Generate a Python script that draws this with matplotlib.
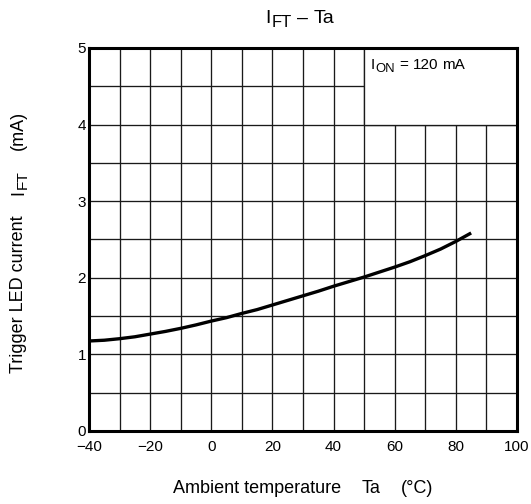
import matplotlib
matplotlib.use("Agg")
import matplotlib.pyplot as plt
from matplotlib.patches import Rectangle
from matplotlib.transforms import IdentityTransform
import numpy as np

plt.rcParams['font.family'] = ['Liberation Sans', 'DejaVu Sans']

# Trigger LED current I_FT (mA) vs ambient temperature Ta (deg C)
temp_c = [-40, -35, -30, -25, -20, -15, -10, -5, 0, 5, 10, 15, 20, 25,
          30, 35, 40, 45, 50, 55, 60, 65, 70, 75, 80, 85]
ift_ma = [1.175, 1.185, 1.205, 1.23, 1.265, 1.30, 1.34, 1.385, 1.435, 1.48,
          1.535, 1.585, 1.645, 1.705, 1.765, 1.825, 1.89, 1.95, 2.01, 2.075,
          2.14, 2.21, 2.29, 2.375, 2.475, 2.585]

x_ticks = [-40, -20, 0, 20, 40, 60, 80, 100]
y_ticks = [0, 1, 2, 3, 4, 5]

DPI = 100
fig = plt.figure(figsize=(5.31, 5.04), dpi=DPI)
ax = fig.add_axes([89 / 531, 73 / 504, 428 / 531, 383 / 504])

ax.set_xlim(-40, 100)
ax.set_ylim(0, 5)
ax.set_xticks(x_ticks)
ax.set_xticklabels([str(v).replace('-', '\u2212') for v in x_ticks])
ax.set_yticks(y_ticks)
ax.set_xticks(np.arange(-40, 101, 10), minor=True)
ax.set_yticks(np.arange(0, 5.01, 0.5), minor=True)
ax.tick_params(which='both', length=0, labelsize=11)
ax.tick_params(axis='y', pad=2)
ax.tick_params(axis='x', pad=6.5)
ax.grid(which='both', color='#1a1a1a', linewidth=0.95, zorder=1)
ax.set_axisbelow(True)
for s in ax.spines.values():
    s.set_linewidth(2.2)
    s.set_zorder(5)

# Condition box in the upper-right corner (clears the grid behind it)
ax.add_patch(Rectangle((50, 4), 50, 1, facecolor='white', edgecolor='#1a1a1a',
                       linewidth=0.95, zorder=2))

ax.plot(temp_c, ift_ma, color='black', linewidth=2.4, solid_capstyle='butt',
        zorder=4, clip_on=False)

fig.canvas.draw()
renderer = fig.canvas.get_renderer()


def rich_text(parts, x_px, y_px, size, rotation=0, align='center'):
    """Draw text made of normal / subscript pieces with explicit gaps.

    parts: list of (text, 'n'|'s') or (gap_in_em, 'g').
    (x_px, y_px) is the baseline anchor: the middle of the run when
    align == 'center', its start when align == 'left'.
    """
    em = size * DPI / 72.0
    pieces = []
    for txt, kind in parts:
        if kind == 'g':
            pieces.append((None, txt * em, 0.0))
            continue
        fs = size if kind == 'n' else size * 0.85
        drop = 0.0 if kind == 'n' else 0.22 * em
        t = fig.text(0, 0, txt, fontsize=fs, transform=IdentityTransform(),
                     ha='left', va='baseline', rotation=rotation,
                     rotation_mode='anchor')
        bb = t.get_window_extent(renderer)
        length = bb.width if rotation == 0 else bb.height
        pieces.append((t, length, drop))
    total = sum(p[1] for p in pieces)
    pos = -total / 2.0 if align == 'center' else 0.0
    for t, length, drop in pieces:
        if t is not None:
            if rotation == 0:
                t.set_position((x_px + pos, y_px - drop))
            else:
                t.set_position((x_px + drop, y_px + pos))
        pos += length


H = 504
# Title
rich_text([("I", 'n'), (0.03, 'g'), ("FT", 's'), (0.3, 'g'), ("\u2013", 'n'),
           (0.3, 'g'), ("Ta", 'n')], 300, H - 23, 14)
# Condition label
rich_text([("I", 'n'), (0.03, 'g'), ("ON", 's'), (0.28, 'g'), ("=", 'n'),
           (0.28, 'g'), ("120", 'n'), (0.28, 'g'), ("mA", 'n')],
          371, H - 69, 11, align='left')
# Axis labels
rich_text([("Ambient temperature", 'n'), (1.15, 'g'), ("Ta", 'n'), (1.15, 'g'),
           ("(\u00b0C)", 'n')], 303, H - 493, 13)
rich_text([("Trigger LED current", 'n'), (1.15, 'g'), ("I", 'n'), (0.03, 'g'),
           ("FT", 's'), (1.15, 'g'), ("(mA)", 'n')], 23, 262, 13, rotation=90)

fig.savefig("out.png", dpi=DPI, facecolor='white')
